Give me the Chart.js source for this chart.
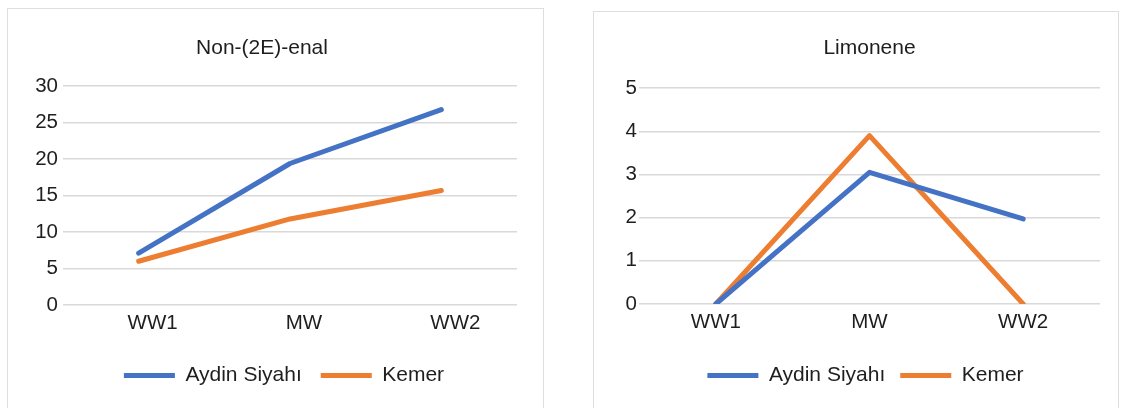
<!DOCTYPE html>
<html>
<head>
<meta charset="utf-8">
<script src="https://cdn.jsdelivr.net/npm/chart.js@4.4.1/dist/chart.umd.min.js"></script>
<style>
  html, body { margin: 0; padding: 0; background: #fff; width: 1126px; height: 408px; overflow: hidden; }
  .panel { position: absolute; border: 1px solid #dedede; box-sizing: border-box; background: #fff; }
  canvas { position: absolute; top: 0; }
</style>
</head>
<body>
<div class="panel" style="left:7px; top:8px; width:537px; height:430px;"></div>
<div class="panel" style="left:593px; top:11px; width:526px; height:430px;"></div>
<canvas id="nonenal" width="510" height="408" style="left:7px;"></canvas>
<canvas id="limonene" width="506" height="408" style="left:594px;"></canvas>

<script>
// Sampling points
const categories = ['WW1', 'MW', 'WW2'];
const seriesNames = ['Aydin Siyahı', 'Kemer'];

// Non-(2E)-enal
const nonenalAydin = [7.1, 19.4, 26.8];
const nonenalKemer = [6.0, 11.8, 15.7];
const nonenalTicks = [0, 5, 10, 15, 20, 25, 30];

// Limonene
const limoneneAydin = [0, 3.05, 1.97];
const limoneneKemer = [0, 3.9, 0];
const limoneneTicks = [0, 1, 2, 3, 4, 5];

const BLUE = '#4472C4';
const ORANGE = '#ED7D31';
const TEXT = '#1e1e1e';
const GRID = '#d9d9d9';
const FONT = '"Liberation Sans", Arial, sans-serif';

// Nudges the bottom legend sideways after layout
const legendShift = {
  id: 'legendShift',
  afterLayout(chart, args, opts) {
    const lg = chart.legend;
    if (lg && opts.dx) {
      lg.left += opts.dx;
      lg.right += opts.dx;
    }
  }
};

function lineDataset(label, data, color) {
  return {
    label, data,
    borderColor: color,
    backgroundColor: color,
    borderWidth: 5,
    borderCapStyle: 'round',
    borderJoinStyle: 'round',
    pointRadius: 0,
    pointHoverRadius: 0,
    tension: 0,
    fill: false
  };
}

function buildChart(id, title, aydin, kemer, ticks, cfg) {
  new Chart(document.getElementById(id), {
    type: 'line',
    data: {
      labels: categories,
      datasets: [
        lineDataset(seriesNames[0], aydin, BLUE),
        lineDataset(seriesNames[1], kemer, ORANGE)
      ]
    },
    plugins: [legendShift],
    options: {
      responsive: false,
      animation: false,
      events: [],
      layout: { padding: { top: 0, bottom: 12, left: 0, right: 0 } },
      plugins: {
        tooltip: { enabled: false },
        legendShift: { dx: cfg.legendDx },
        title: {
          display: true,
          text: title,
          color: TEXT,
          fullSize: cfg.titleFull,
          font: { family: FONT, size: 21, weight: 'normal' },
          padding: { top: 36, bottom: cfg.titleBottom }
        },
        legend: {
          position: 'bottom',
          fullSize: false,
          labels: {
            color: TEXT,
            font: { family: FONT, size: 21 },
            usePointStyle: true,
            pointStyle: 'line',
            pointStyleWidth: 51,
            padding: cfg.legendPad
          }
        }
      },
      scales: {
        x: {
          offset: true,
          grid: { display: false, drawTicks: false },
          border: { display: false },
          ticks: {
            color: TEXT,
            font: { family: FONT, size: 20.5 },
            padding: 6,
            labelOffset: cfg.labelOffset,
            maxRotation: 0
          },
          afterFit: s => { s.height = cfg.xHeight; }
        },
        y: {
          min: ticks[0],
          max: ticks[ticks.length - 1],
          afterBuildTicks: s => { s.ticks = ticks.map(v => ({ value: v })); },
          grid: { color: GRID, lineWidth: 1.5, drawTicks: false },
          border: { display: false },
          ticks: {
            color: TEXT,
            font: { family: FONT, size: 20.5 },
            padding: cfg.yPad
          },
          afterFit: s => { s.width = cfg.yWidth; }
        }
      }
    }
  });
}

buildChart('nonenal', 'Non-(2E)-enal', nonenalAydin, nonenalKemer, nonenalTicks,
  { titleFull: true, titleBottom: 25, legendPad: 19, legendDx: -6, xHeight: 41, labelOffset: 14, yWidth: 56, yPad: 5 });
buildChart('limonene', 'Limonene', limoneneAydin, limoneneKemer, limoneneTicks,
  { titleFull: false, titleBottom: 27, legendPad: 15, legendDx: -4, xHeight: 46, labelOffset: 0, yWidth: 45, yPad: 2 });
</script>
</body>
</html>
